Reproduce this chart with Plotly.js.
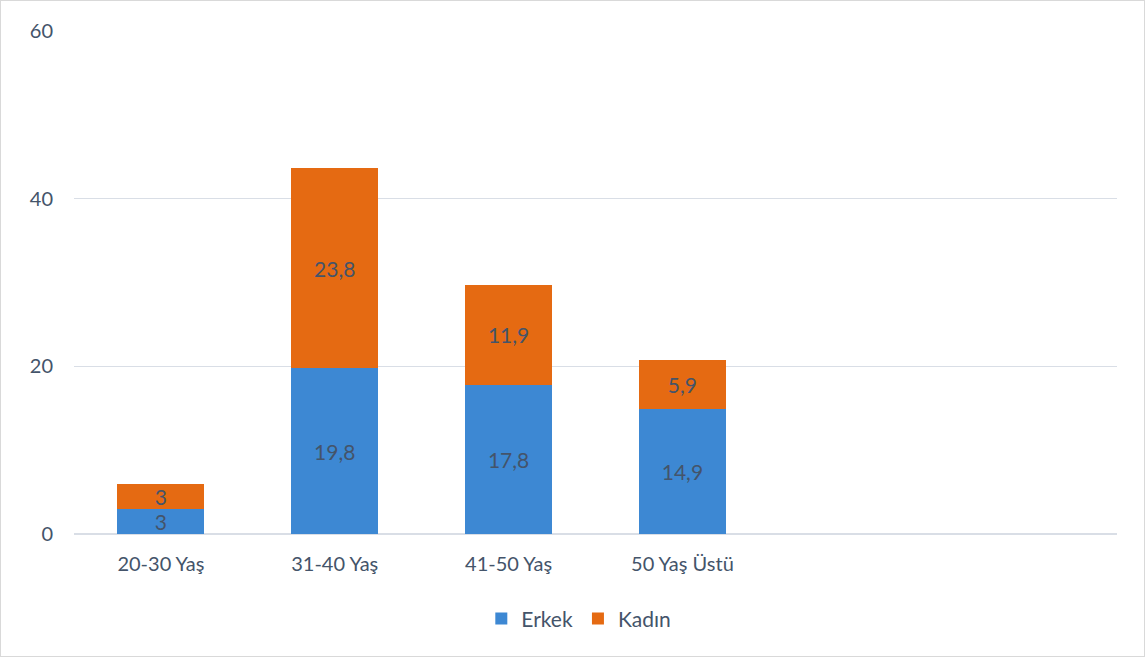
<!DOCTYPE html>
<html>
<head>
<meta charset="utf-8">
<script src="https://cdn.plot.ly/plotly-3.0.1.min.js"></script>
<style>
html,body{margin:0;padding:0;background:#fff;}
#chart{width:1143px;height:655px;border:1px solid #D9D9D9;}
</style>
</head>
<body>
<div id="chart"></div>
<script>
const categories = ['20-30 Yaş', '31-40 Yaş', '41-50 Yaş', '50 Yaş Üstü'];
const erkek = [3, 19.8, 17.8, 14.9];
const kadin = [3, 23.8, 11.9, 5.9];
const yTicks = [0, 20, 40, 60];

const labelFont = {family: 'Lato, "Open Sans", sans-serif', size: 21, color: '#44546A'};

const traces = [
  {
    type: 'bar', name: 'Erkek', x: categories, y: erkek,
    marker: {color: '#3D88D3'},
    texttemplate: '%{y}', textposition: 'inside', insidetextanchor: 'middle',
    textangle: 0, constraintext: 'none', cliponaxis: false,
    textfont: labelFont, hoverinfo: 'skip'
  },
  {
    type: 'bar', name: 'Kadın', x: categories, y: kadin,
    marker: {color: '#E56A12'},
    texttemplate: '%{y}', textposition: 'inside', insidetextanchor: 'middle',
    textangle: 0, constraintext: 'none', cliponaxis: false,
    textfont: labelFont, hoverinfo: 'skip'
  }
];

const layout = {
  width: 1143, height: 655,
  barmode: 'stack', bargap: 0.5,
  separators: ',.',
  uniformtext: {mode: false},
  paper_bgcolor: '#fff', plot_bgcolor: '#fff',
  margin: {l: 73, r: 27, t: 30, b: 122},
  font: {family: 'Lato, "Open Sans", sans-serif', size: 20, color: '#44546A'},
  xaxis: {
    type: 'category', range: [-0.5, 5.5],
    showgrid: false, showline: false, zeroline: false, ticks: '',
    tickfont: {size: 20, color: '#44546A'}, ticklabelstandoff: 16
  },
  yaxis: {
    range: [0, 60], tickvals: yTicks, showgrid: true, gridcolor: '#D9DEE6', gridwidth: 1,
    zeroline: true, zerolinecolor: '#D9DEE6', zerolinewidth: 1.5, showline: false, ticks: '',
    tickfont: {size: 20, color: '#44546A'}, ticklabelstandoff: 20
  },
  showlegend: true,
  legend: {
    orientation: 'h', x: 0.484, xanchor: 'center', y: -0.128, yanchor: 'top',
    font: {size: 21, color: '#44546A'}, traceorder: 'normal', itemwidth: 30
  }
};

Plotly.newPlot('chart', traces, layout, {displayModeBar: false, staticPlot: true});
</script>
</body>
</html>
